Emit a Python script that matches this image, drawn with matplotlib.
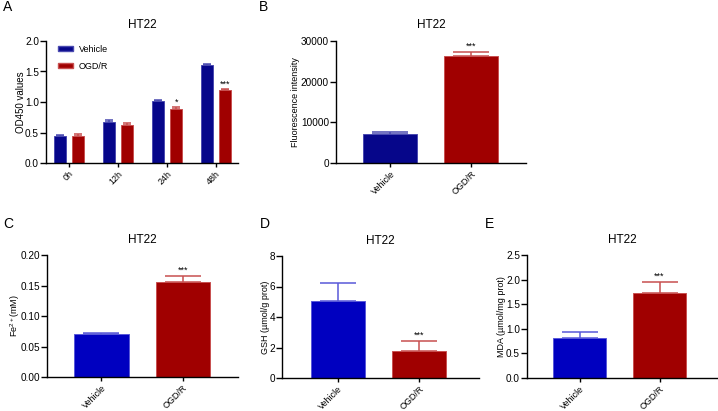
import matplotlib
matplotlib.use("Agg")
import matplotlib.pyplot as plt
from matplotlib.patches import Patch
import numpy as np

plt.rcParams['font.family'] = ['Liberation Sans', 'DejaVu Sans']
plt.rcParams['mathtext.fontset'] = 'custom'
plt.rcParams['mathtext.rm'] = 'Liberation Sans'
plt.rcParams['mathtext.default'] = 'regular'

# Data
time_labels = ["0h", "12h", "24h", "48h"]
a_vehicle = [0.45, 0.67, 1.02, 1.61]
a_vehicle_err = [0.015, 0.03, 0.015, 0.015]
a_ogd = [0.45, 0.63, 0.89, 1.19]
a_ogd_err = [0.025, 0.025, 0.02, 0.025]
a_stars = ["", "", "*", "***"]

groups = ["Vehicle", "OGD/R"]
b_vals = [7100, 26200]
b_err = [400, 1200]
c_vals = [0.070, 0.155]
c_err = [0.002, 0.011]
d_vals = [5.05, 1.75]
d_err = [1.15, 0.68]
e_vals = [0.81, 1.72]
e_err = [0.12, 0.23]

W, H = 718, 411
fig = plt.figure(figsize=(W / 100, H / 100), dpi=100)

def ax_at(l, r, t, b):
    ax = fig.add_axes([l / W, 1 - b / H, (r - l) / W, (b - t) / H])
    ax._px = (l, r)
    return ax

def place_ylabel(ax, px):
    l, r = ax._px
    ax.yaxis.set_label_coords((px - l) / (r - l), 0.5)

NAVY = "#06068a"
NAVY_E = "#4a4ab0"
BLUE = "#0000c0"
BLUE_E = "#5858d8"
RED = "#a00000"
RED_E = "#c85050"

def style(ax):
    for s in ["top", "right"]:
        ax.spines[s].set_visible(False)
    for s in ["left", "bottom"]:
        ax.spines[s].set_linewidth(1.0)
    ax.tick_params(axis="y", direction="out", length=4, width=1, labelsize=7.2, pad=1.0)
    ax.tick_params(axis="x", direction="out", length=3, width=1, labelsize=6.5, pad=1.5)

def draw_bar(ax, x, v, e, color, ecolor, width, capw):
    ax.bar(x, v, width=width, color=color, edgecolor=ecolor, linewidth=0.7, zorder=2)
    ax.errorbar(x, v, yerr=[[0], [e]], fmt="none", ecolor=ecolor, elinewidth=1.1,
                capsize=capw, capthick=1.1, zorder=1)

# Panel A
axA = ax_at(46, 238, 41, 163)
style(axA)
xA = np.arange(len(time_labels))
off = 0.188
bw = 0.254
for i in range(len(time_labels)):
    draw_bar(axA, xA[i] - off, a_vehicle[i], a_vehicle_err[i], NAVY, NAVY_E, bw, 3)
    draw_bar(axA, xA[i] + off, a_ogd[i], a_ogd_err[i], RED, RED_E, bw, 3)
    if a_stars[i]:
        axA.text(xA[i] + off, a_ogd[i] + a_ogd_err[i] + 0.01, a_stars[i],
                 ha="center", va="bottom", fontsize=6.5)
axA.set_xlim(-0.47, 3.45)
axA.set_ylim(0, 2.0)
axA.set_yticks([0, 0.5, 1.0, 1.5, 2.0])
axA.set_yticklabels(["0.0", "0.5", "1.0", "1.5", "2.0"])
axA.set_xticks(xA)
axA.set_xticklabels(time_labels, rotation=45, ha="right", rotation_mode="anchor")
axA.set_ylabel("OD450 values", fontsize=7, va="center")
place_ylabel(axA, 21)
axA.set_title("HT22", fontsize=8.5, pad=9)
axA.legend(handles=[Patch(facecolor=NAVY, edgecolor=NAVY_E), Patch(facecolor=RED, edgecolor=RED_E)],
           labels=["Vehicle", "OGD/R"], loc="upper left", frameon=False, fontsize=6.5,
           handlelength=1.6, handleheight=0.45, labelspacing=0.9, borderaxespad=0.3,
           handletextpad=0.7, bbox_to_anchor=(0.03, 1.02))

def two_bar(ax, vals, errs, vcolor, vecolor, ylim, yticks, yticklabels, ylabel, xlim, ylab_px):
    style(ax)
    x = np.arange(2)
    draw_bar(ax, x[0], vals[0], errs[0], vcolor, vecolor, 0.67, 13)
    draw_bar(ax, x[1], vals[1], errs[1], RED, RED_E, 0.67, 13)
    ax.text(x[1], vals[1] + errs[1] + ylim[1] * 0.008, "***", ha="center", va="bottom", fontsize=6.5)
    ax.set_xlim(*xlim)
    ax.set_ylim(*ylim)
    ax.set_yticks(yticks)
    ax.set_yticklabels(yticklabels)
    ax.set_xticks(x)
    ax.set_xticklabels(groups, rotation=45, ha="right", rotation_mode="anchor")
    ax.set_ylabel(ylabel, fontsize=6.5, va="center")
    place_ylabel(ax, ylab_px)
    ax.set_title("HT22", fontsize=8.5, pad=9)

axB = ax_at(336, 526, 41, 163)
two_bar(axB, b_vals, b_err, NAVY, NAVY_E, (0, 30000), [0, 10000, 20000, 30000],
        ["0", "10000", "20000", "30000"], "Fluorescence intensity", (-0.67, 1.68), 295)

axC = ax_at(47, 238, 255, 377)
two_bar(axC, c_vals, c_err, BLUE, BLUE_E, (0, 0.20), [0, 0.05, 0.10, 0.15, 0.20],
        ["0.00", "0.05", "0.10", "0.15", "0.20"], "Fe$^{2+}$(mM)", (-0.67, 1.68), 15)

axD = ax_at(282, 479, 256, 378)
two_bar(axD, d_vals, d_err, BLUE, BLUE_E, (0, 8), [0, 2, 4, 6, 8],
        ["0", "2", "4", "6", "8"], "GSH (µmol/g prot)", (-0.69, 1.74), 265)

axE = ax_at(527, 717, 255, 378)
two_bar(axE, e_vals, e_err, BLUE, BLUE_E, (0, 2.5), [0, 0.5, 1.0, 1.5, 2.0, 2.5],
        ["0.0", "0.5", "1.0", "1.5", "2.0", "2.5"], "MDA (µmol/mg prot)", (-0.66, 1.72), 502)

# Panel letters
for lab, x, y in [("A", 3, 7), ("B", 259, 7), ("C", 3, 224), ("D", 260, 224), ("E", 485, 224)]:
    fig.text(x / W, 1 - y / H, lab, fontsize=10, ha="left", va="center")

fig.savefig("out.png", dpi=100)
